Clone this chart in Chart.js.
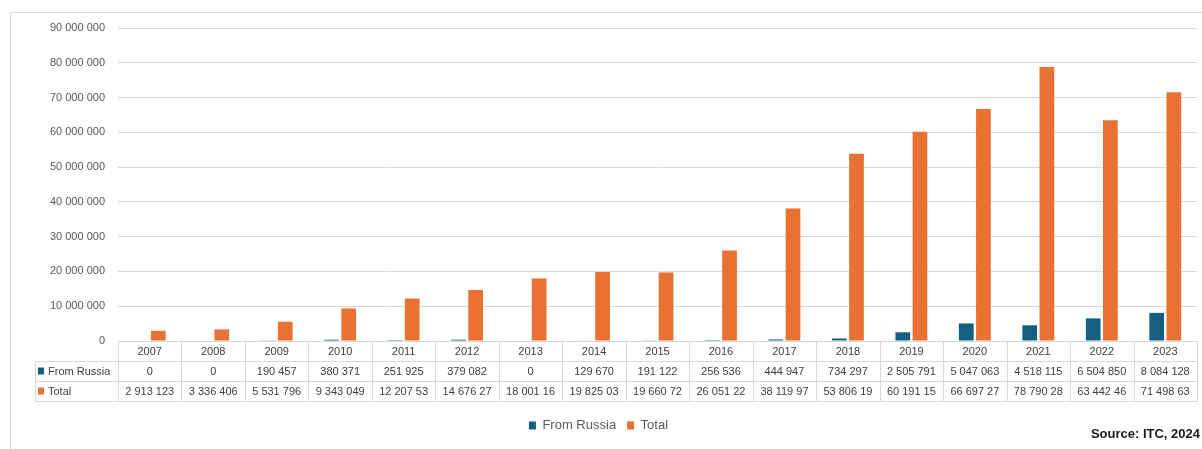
<!DOCTYPE html>
<html>
<head>
<meta charset="utf-8">
<script src="https://cdn.jsdelivr.net/npm/chart.js@4.4.1/dist/chart.umd.min.js"></script>
<style>
html, body { margin: 0; padding: 0; background: #fff; }
#wrap { position: relative; width: 1202px; height: 449px; }
</style>
</head>
<body>
<div id="wrap"><canvas id="barChart"></canvas></div>
<script>
// Imports, in units
const years = ['2007', '2008', '2009', '2010', '2011', '2012', '2013', '2014', '2015',
    '2016', '2017', '2018', '2019', '2020', '2021', '2022', '2023'];
const fromRussia = [0, 0, 190457, 380371, 251925, 379082, 0, 129670, 191122,
    256536, 444947, 734297, 2505791, 5047063, 4518115, 6504850, 8084128];
const total = [2913123, 3336406, 5531796, 9343049, 12207530, 14676270, 18001160, 19825030, 19660720,
    26051220, 38119970, 53806190, 60191150, 66697270, 78790280, 63442460, 71498630];
const yMax = 90000000;
const yStep = 10000000;

const seriesNames = ['From Russia', 'Total'];
const blue = '#156082';
const orange = '#E97132';
const gridColor = '#d9d9d9';
const font = '"Liberation Sans", Arial, sans-serif';

function fmt(v) {
    return String(v).replace(/\B(?=(\d{3})+(?!\d))/g, ' ');
}

// data table under the plot: years row, then one row per series
const tablePlugin = {
    id: 'dataTable',
    afterDraw(chart) {
        const ctx = chart.ctx;
        const x = chart.scales.x;
        const area = chart.chartArea;
        const n = years.length;
        const w = (x.right - x.left) / n;
        const top = Math.round(area.bottom) + 0.5;
        const rowH = 20;
        const keyLeft = 35.5;
        const right = Math.round(x.right) + 0.5;

        ctx.save();
        ctx.strokeStyle = gridColor;
        ctx.lineWidth = 1;
        ctx.beginPath();
        ctx.moveTo(x.left, top);
        ctx.lineTo(right, top);
        for (let r = 1; r <= 3; r++) {
            ctx.moveTo(keyLeft, top + r * rowH);
            ctx.lineTo(right, top + r * rowH);
        }
        for (let i = 0; i <= n; i++) {
            const px = Math.round(x.left + i * w) + 0.5;
            ctx.moveTo(px, top);
            ctx.lineTo(px, top + 3 * rowH);
        }
        ctx.moveTo(keyLeft, top + rowH);
        ctx.lineTo(keyLeft, top + 3 * rowH);
        ctx.stroke();

        // outer frame
        ctx.strokeRect(10.5, 12.5, 1200, 445);

        ctx.fillStyle = '#404040';
        ctx.font = '11px ' + font;
        ctx.textBaseline = 'middle';
        ctx.textAlign = 'center';
        years.forEach((y, i) => {
            ctx.fillText(y, x.getPixelForValue(i), top + rowH / 2);
        });

        const rows = [
            { name: seriesNames[0], color: blue, values: fromRussia.map(fmt) },
            // the Total cells only hold nine characters
            { name: seriesNames[1], color: orange, values: total.map(v => fmt(v).slice(0, 9)) }
        ];
        rows.forEach((row, r) => {
            const cy = top + rowH * (r + 1) + rowH / 2;
            ctx.fillStyle = row.color;
            ctx.fillRect(38, cy - 4, 6, 7);
            ctx.fillStyle = '#404040';
            ctx.textAlign = 'left';
            ctx.fillText(row.name, 48, cy);
            ctx.textAlign = 'center';
            row.values.forEach((s, i) => {
                ctx.fillText(s, x.getPixelForValue(i), cy);
            });
        });

        ctx.fillStyle = '#1a1a1a';
        ctx.font = 'bold 13px ' + font;
        ctx.textAlign = 'right';
        ctx.fillText('Source: ITC, 2024', 1200, 434);
        ctx.restore();
    }
};

const ctx = document.getElementById('barChart').getContext('2d');
const chart = new Chart(ctx, {
    type: 'bar',
    data: {
        labels: years,
        datasets: [
            {
                label: seriesNames[0],
                data: fromRussia,
                backgroundColor: blue,
                categoryPercentage: 0.54,
                barPercentage: 0.86
            },
            {
                label: seriesNames[1],
                data: total,
                backgroundColor: orange,
                categoryPercentage: 0.54,
                barPercentage: 0.86
            }
        ]
    },
    options: {
        responsive: true,
        maintainAspectRatio: false,
        animation: false,
        layout: {
            padding: { top: 28, right: 5, bottom: 7, left: 0 }
        },
        plugins: {
            tooltip: { enabled: false },
            legend: {
                position: 'bottom',
                labels: {
                    boxWidth: 7,
                    boxHeight: 8,
                    padding: 11,
                    color: '#595959',
                    font: { family: font, size: 13 }
                }
            }
        },
        scales: {
            x: {
                grid: { display: false },
                border: { display: false },
                ticks: { display: false },
                afterFit(scale) { scale.height = 67; }
            },
            y: {
                min: 0,
                max: yMax,
                border: { display: false },
                grid: { color: gridColor, drawTicks: false },
                ticks: {
                    stepSize: yStep,
                    padding: 13,
                    color: '#595959',
                    font: { family: font, size: 11 },
                    callback: v => fmt(v)
                },
                afterFit(scale) { scale.width = 118; }
            }
        }
    },
    plugins: [tablePlugin]
});
</script>
</body>
</html>
